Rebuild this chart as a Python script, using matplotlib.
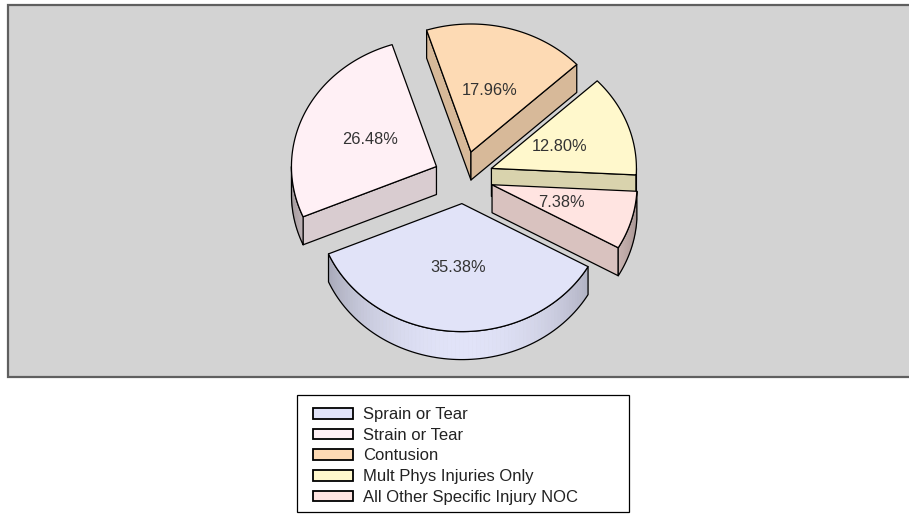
import numpy as np
import matplotlib
matplotlib.use("Agg")
import matplotlib.pyplot as plt
from matplotlib.patches import Polygon, Rectangle
from matplotlib.collections import PolyCollection
from matplotlib.colors import to_rgb

# ---- data ----
categories = ["Sprain or Tear", "Strain or Tear", "Contusion",
              "Mult Phys Injuries Only", "All Other Specific Injury NOC"]
percents = [35.38, 26.48, 17.96, 12.80, 7.38]
top_colors = ["#e1e3f8", "#fff0f5", "#fddab4", "#fff8cc", "#ffe4e1"]

plt.rcParams['font.family'] = ['Liberation Sans', 'DejaVu Sans']

W, H = 909, 514
fig = plt.figure(figsize=(W / 100, H / 100), dpi=100)
ax = fig.add_axes([0, 0, 1, 1])
ax.set_xlim(0, W)
ax.set_ylim(H, 0)
ax.axis('off')

# panel
ax.add_patch(Rectangle((8, 5), 910, 372, facecolor='#d3d3d3',
                       edgecolor='#5f5f5f', lw=1.6, zorder=0))

# pie geometry (pixel space, y down)
cx, cy = 463.5, 177.4
rx, ry = 145.0, 128.0
depth = 28.0
explode = 0.205
start = 29.5  # degrees, screen-param, clockwise

vals = np.array(percents, dtype=float)
spans = vals / vals.sum() * 360.0
starts = start + np.concatenate([[0], np.cumsum(spans)[:-1]])


def pt(ox, oy, a, dz=0.0):
    r = np.radians(a)
    return (ox + rx * np.cos(r), oy + ry * np.sin(r) + dz)


def shade(c, f):
    return tuple(min(1, v * f) for v in to_rgb(c))


slices = []
for i in range(len(vals)):
    a1 = starts[i]
    a2 = a1 + spans[i]
    m = np.radians((a1 + a2) / 2)
    ox = cx + explode * rx * np.cos(m)
    oy = cy + explode * ry * np.sin(m)
    slices.append((np.sin(m), i, a1, a2, ox, oy))

edge_kw = dict(edgecolor='black', lw=0.9, joinstyle='round')

for _, i, a1, a2, ox, oy in sorted(slices):
    col = top_colors[i]
    z = 2 + _
    # radial side faces
    for a, vis in ((a1, np.cos(np.radians(a1)) < 0), (a2, np.cos(np.radians(a2)) > 0)):
        if vis:
            p_top = pt(ox, oy, a)
            p_bot = pt(ox, oy, a, depth)
            poly = [(ox, oy), p_top, p_bot, (ox, oy + depth)]
            ax.add_patch(Polygon(poly, closed=True, facecolor=shade(col, 0.85),
                                 zorder=z, **edge_kw))
    # outer rim (front half only)
    segs = []
    for lo, hi in ((a1, a2), (a1 - 360, a2 - 360)):
        s_lo, s_hi = max(lo, 0), min(hi, 180)
        if s_hi > s_lo:
            segs.append((s_lo, s_hi))
    for s_lo, s_hi in segs:
        angs = np.linspace(s_lo, s_hi, 80)
        quads, cols = [], []
        for k in range(len(angs) - 1):
            aa, bb = angs[k], angs[k + 1]
            quads.append([pt(ox, oy, aa), pt(ox, oy, bb),
                          pt(ox, oy, bb, depth), pt(ox, oy, aa, depth)])
            s = np.sin(np.radians((aa + bb) / 2))
            cols.append(shade(col, 0.62 + 0.38 * s ** 1.2))
        ax.add_collection(PolyCollection(quads, facecolors=cols, edgecolors=cols,
                                         lw=0.4, zorder=z))
        outline = [pt(ox, oy, a) for a in angs] + [pt(ox, oy, a, depth) for a in angs[::-1]]
        ax.add_patch(Polygon(outline, closed=True, facecolor='none', zorder=z, **edge_kw))
    # top face
    angs = np.linspace(a1, a2, 120)
    poly = [(ox, oy)] + [pt(ox, oy, a) for a in angs]
    ax.add_patch(Polygon(poly, closed=True, facecolor=col, zorder=z, **edge_kw))
    # label
    m = np.radians((a1 + a2) / 2)
    ax.text(ox + 0.5 * rx * np.cos(m), oy + 0.5 * ry * np.sin(m),
            f"{percents[i]:.2f}%", ha='center', va='center',
            fontsize=11.8, color='#333333', zorder=z + 0.5)

# legend (frame drawn manually)
ax.add_patch(Rectangle((297, 395), 332, 117, facecolor='white',
                       edgecolor='black', lw=0.9, zorder=1))
handles = [Rectangle((0, 0), 1, 1, facecolor=c, edgecolor='black', lw=1.3)
           for c in top_colors]
fig.legend(handles, categories, loc='upper left',
           bbox_to_anchor=(310 / W, 1 - 404 / H), frameon=False,
           fontsize=12, handlelength=2.4, handleheight=0.6,
           handletextpad=0.6, labelspacing=0.335, borderpad=0.2,
           borderaxespad=0, labelcolor='#222222')

fig.savefig("out.png", dpi=100)
